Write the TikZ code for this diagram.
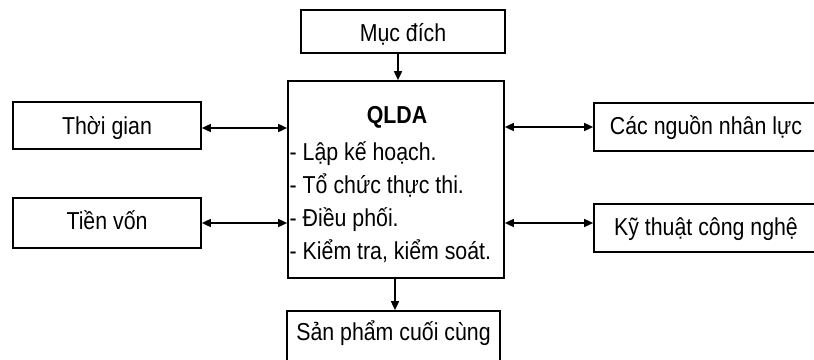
\documentclass[tikz,border=0pt]{standalone}
\usepackage{fontspec}
\setmainfont{Liberation Sans}[FakeStretch=0.87]
\usetikzlibrary{arrows.meta}
\begin{document}
\begin{tikzpicture}[x=1pt,y=-1pt,
  box/.style 2 args={draw, line width=1.7pt, inner sep=0pt, minimum width=#1, text height=24pt, text depth=#2},
  arr/.style={line width=1.6pt, -{Triangle[length=9pt,width=8pt]}},
  darr/.style={line width=1.6pt, {Triangle[length=9pt,width=8pt]}-{Triangle[length=9pt,width=8pt]}},
  every node/.append style={font=\fontsize{24.5}{33.3}\selectfont}]
\useasboundingbox (0,0) rectangle (814,359);
\node[box={204}{3.6pt}, minimum height=43] (muc) at (403,31.5) {Mục đích};
\node[box={216}{0pt}, minimum height=197, text height=0pt] (qlda) at (396,179.5) {};
\node[anchor=base, font=\fontsize{24.5}{33.3}\selectfont\bfseries] (title) at (397,123) {QLDA};
\node[anchor=base west, inner sep=0pt] (list) at (289.5,160) {\begin{tabular}[t]{@{}l@{}}- Lập kế hoạch.\\- Tổ chức thực thi.\\- Điều phối.\\- Kiểm tra, kiểm soát.\end{tabular}};
\node[box={188}{6.4pt}, minimum height=47] (thoi) at (107,125.5) {Thời gian};
\node[box={188}{11.4pt}, minimum height=50] (tien) at (107,223) {Tiền vốn};
\node[box={224}{9.4pt}, minimum height=48] (cac) at (706,127) {Các nguồn nhân lực};
\node[box={224}{10pt}, minimum height=48] (ky) at (706,228) {Kỹ thuật công nghệ};
\node[box={213}{16pt}, minimum height=50] (san) at (393.5,336) {Sản phẩm cuối cùng};
\draw[arr] ([xshift=-5pt]muc.south) -- ([xshift=-5pt]muc.south |- qlda.north);
\draw[arr] ([xshift=-1pt]qlda.south) -- ([xshift=-1pt]qlda.south |- san.north);
\draw[darr] ([yshift=-2.5pt]thoi.east) -- ([yshift=-2.5pt]thoi.east -| qlda.west);
\draw[darr] (tien.east) -- (tien.east -| qlda.west);
\draw[darr] (qlda.east |- cac.west) -- (cac.west);
\draw[darr] ([yshift=5pt]qlda.east |- ky.west) -- ([yshift=5pt]ky.west);
\end{tikzpicture}
\end{document}
